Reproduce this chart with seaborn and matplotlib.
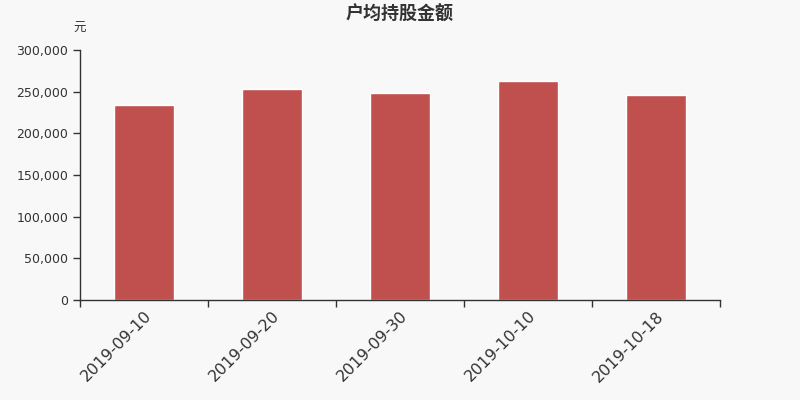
import numpy as np
import pandas as pd
import matplotlib
matplotlib.use('Agg')
import matplotlib.pyplot as plt
import seaborn as sns
from matplotlib.ticker import FuncFormatter, FixedLocator

dates = ['2019-09-10', '2019-09-20', '2019-09-30', '2019-10-10', '2019-10-18']
amounts = [234000, 253600, 248000, 262800, 246000]

df = pd.DataFrame({'date': dates, 'amount': amounts})

sns.set_style('white')
plt.rcParams['font.family'] = ['DejaVu Sans', 'Noto Sans CJK SC']

bg = '#f8f8f8'
fig = plt.figure(figsize=(8, 4), dpi=100, facecolor=bg)
ax = fig.add_axes([0.1, 0.25, 0.8, 0.625])
ax.set_facecolor(bg)

sns.barplot(data=df, x='date', y='amount', color='#c0504e', width=0.47,
            saturation=1, ax=ax)

ax.set_xlim(-0.5, len(dates) - 0.5)
ax.set_ylim(0, 300000)
ax.set_yticks(np.arange(0, 300001, 50000))
ax.yaxis.set_major_formatter(FuncFormatter(lambda v, p: f'{int(v):,}'))

# category ticks sit on the boundaries, labels in the middle
ax.set_xticks(np.arange(len(dates)))
ax.set_xticklabels(dates, rotation=45, ha='right', rotation_mode='anchor',
                   fontsize=11.5, color='#333333')
ax.xaxis.set_minor_locator(FixedLocator(np.arange(-0.5, len(dates), 1)))
ax.tick_params(axis='x', which='major', length=0, pad=6)
ax.tick_params(axis='x', which='minor', length=5, width=1, color='#333333',
               direction='out', bottom=True)
ax.tick_params(axis='y', length=5, width=1, color='#333333', direction='out',
               left=True, labelsize=9, labelcolor='#333333')

for side in ['top', 'right']:
    ax.spines[side].set_visible(False)
for side in ['left', 'bottom']:
    ax.spines[side].set_color('#333333')
    ax.spines[side].set_linewidth(1)

ax.set_xlabel('')
ax.set_ylabel('')
fig.text(0.5, 0.965, '户均持股金额', ha='center', va='center', fontsize=13,
         fontweight='bold', color='#333333', family=['Noto Sans CJK SC'])
fig.text(0.1, 0.928, '元', ha='center', va='center', fontsize=9,
         color='#333333', family=['Noto Sans CJK SC'])

fig.savefig('out.png', dpi=100, facecolor=bg)
